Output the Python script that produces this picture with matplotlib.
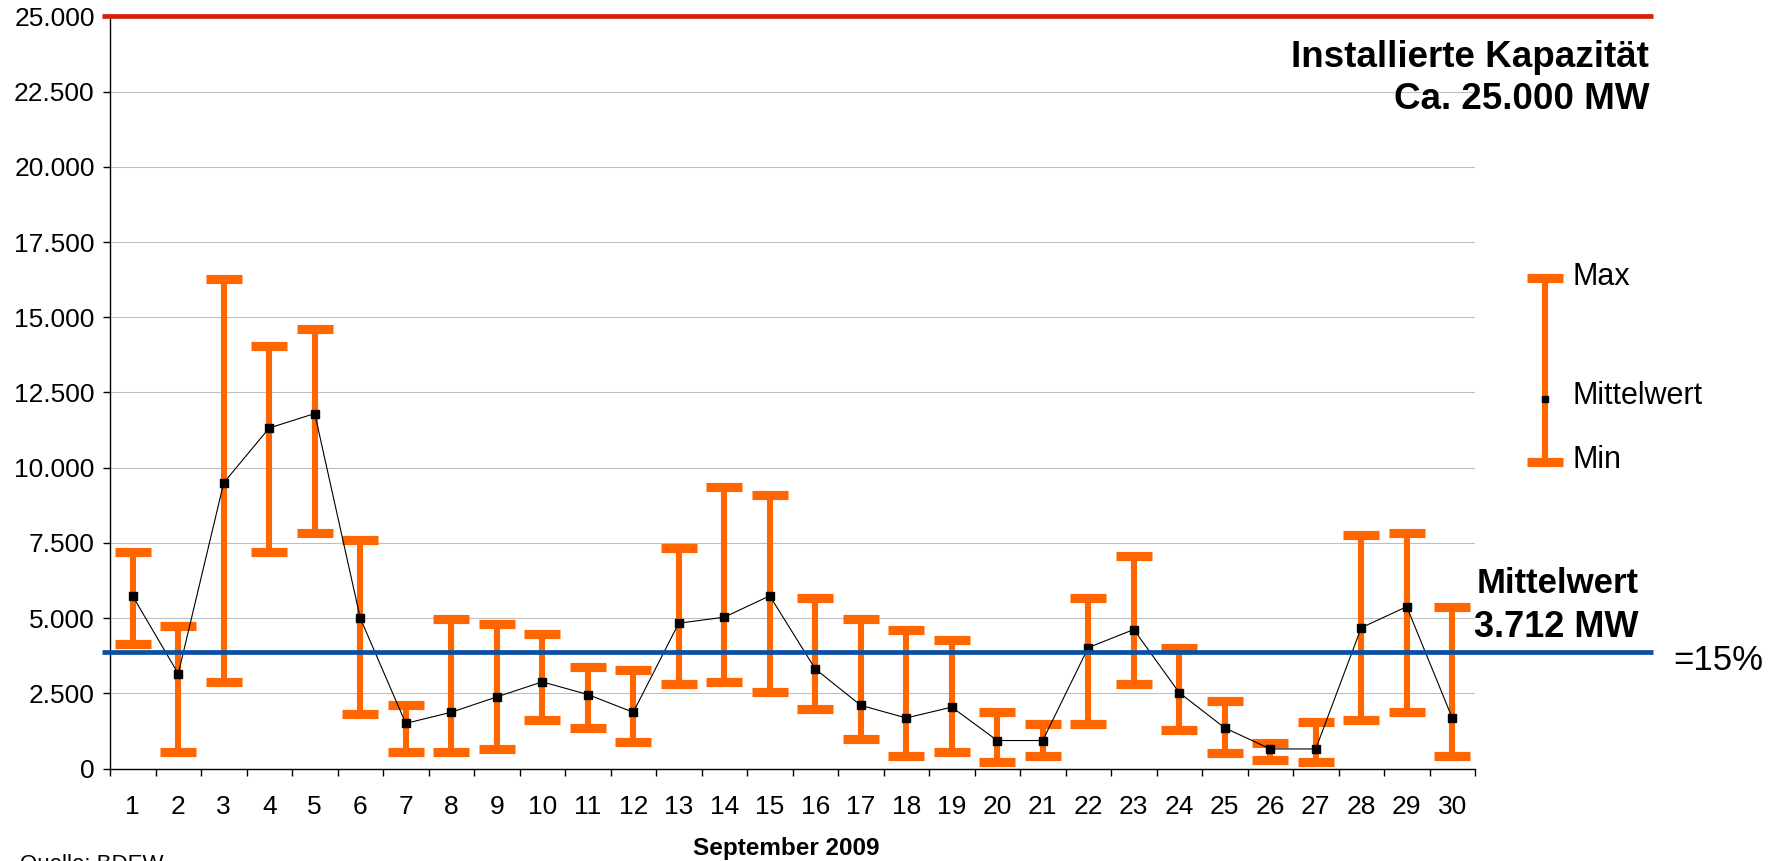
import matplotlib
matplotlib.use("Agg")
import matplotlib.pyplot as plt
import matplotlib.transforms as mtransforms
import numpy as np

plt.rcParams['font.family'] = ['Liberation Sans', 'DejaVu Sans']

# -----------------------------------
# Daten: Windeinspeisung September 2009 (MW)
# -----------------------------------
tage = list(range(1, 31))
maximum = [7200, 4750, 16270, 14050, 14600, 7610, 2100, 4960, 4800, 4470,
           3360, 3290, 7340, 9370, 9080, 5670, 4970, 4620, 4270, 1890,
           1480, 5670, 7070, 4000, 2250, 840, 1550, 7750, 7840, 5380]
mittelwert = [5730, 3150, 9500, 11320, 11800, 5000, 1500, 1870, 2380, 2880,
              2460, 1870, 4830, 5030, 5740, 3310, 2100, 1680, 2040, 930,
              930, 4020, 4620, 2520, 1350, 650, 650, 4680, 5380, 1680]
minimum = [4130, 560, 2880, 7200, 7830, 1820, 560, 560, 640, 1610,
           1340, 880, 2810, 2880, 2530, 1980, 990, 430, 560, 230,
           430, 1480, 2810, 1280, 510, 280, 230, 1610, 1870, 430]

kapazitaet = 25000
mittel_gesamt = 3860  # Lage der blauen Linie (Beschriftung: 3.712 MW)
y_ticks = [0, 2500, 5000, 7500, 10000, 12500, 15000, 17500, 20000, 22500, 25000]
y_labels = ["0", "2.500", "5.000", "7.500", "10.000", "12.500", "15.000",
            "17.500", "20.000", "22.500", "25.000"]

orange = "#FF6600"
rot = "#D7200C"
blau = "#0A50A2"

# -----------------------------------
# Grafik
# -----------------------------------
W, H = 1787, 861
fig = plt.figure(figsize=(W / 100, H / 100), dpi=100)
ax = fig.add_axes([110 / W, 1 - 768.5 / H, 1365 / W, 752 / H])

mw = np.array(mittelwert)
unten = mw - np.array(minimum)
oben = np.array(maximum) - mw

ax.errorbar(tage, mittelwert, yerr=[unten, oben], fmt='none', ecolor=orange,
            elinewidth=4.4, capsize=13.2, capthick=6.6, zorder=3)
ax.plot(tage, mittelwert, color='black', lw=0.8, marker='s', ms=5.5,
        markerfacecolor='black', markeredgecolor='black', zorder=4)

ax.set_xlim(0.5, 30.5)
ax.set_ylim(0, 25000)

# Linien Kapazität und Mittelwert (ragen über die Zeichenfläche hinaus)
trans = mtransforms.blended_transform_factory(ax.transAxes, ax.transData)
ax.plot([-0.006, 1.1304], [kapazitaet, kapazitaet], color=rot, lw=3.4,
        transform=trans, clip_on=False, zorder=5, solid_capstyle='butt')
ax.plot([-0.006, 1.1304], [mittel_gesamt, mittel_gesamt], color=blau, lw=3.4,
        transform=trans, clip_on=False, zorder=5, solid_capstyle='butt')

# Achsen
for s in ['top', 'right']:
    ax.spines[s].set_visible(False)
ax.spines['left'].set_linewidth(1.0)
ax.spines['bottom'].set_linewidth(1.0)

ax.set_yticks(y_ticks)
ax.set_yticklabels(y_labels, fontsize=19)
ax.tick_params(axis='y', length=5, width=1, pad=6)
ax.yaxis.grid(True, color='#BFBFBF', lw=0.8)
ax.set_axisbelow(True)

ax.set_xticks(np.arange(0.5, 31, 1))
ax.set_xticklabels([])
ax.set_xticks(tage, minor=True)
ax.set_xticklabels([str(t) for t in tage], minor=True, fontsize=19)
ax.tick_params(axis='x', which='major', length=5, width=1)
ax.tick_params(axis='x', which='minor', length=0, pad=19)

# Legende (selbst gezeichnet)
lx = 1.0513
ax.plot([lx, lx], [0.4076, 0.6523], color=orange, lw=4.4, transform=ax.transAxes,
        clip_on=False, solid_capstyle='butt')
ax.plot([lx, lx], [0.4076, 0.6523], ls='none', marker='_', ms=26.4, mew=6.6,
        color=orange, transform=ax.transAxes, clip_on=False)
ax.plot([lx], [0.4914], ls='none', marker='s', ms=4, color='black',
        transform=ax.transAxes, clip_on=False)
ax.text(1.0711, 0.6540, "Max", fontsize=22, va='center', transform=ax.transAxes)
ax.text(1.0711, 0.4960, "Mittelwert", fontsize=22, va='center', transform=ax.transAxes)
ax.text(1.0711, 0.4100, "Min", fontsize=22, va='center', transform=ax.transAxes)

# Beschriftungen
fig.text(1649 / W, 1 - 67 / H, "Installierte Kapazität", fontsize=26.5, fontweight='bold',
         ha='right', va='baseline',
         bbox=dict(facecolor='white', edgecolor='none', pad=0))
fig.text(1649 / W, 1 - 109 / H, "Ca. 25.000 MW", fontsize=26.5, fontweight='bold',
         ha='right', va='baseline')
fig.text(1639 / W, 1 - 593 / H, "Mittelwert", fontsize=25, fontweight='bold',
         ha='right', va='baseline')
fig.text(1639 / W, 1 - 637 / H, "3.712 MW", fontsize=26, fontweight='bold',
         ha='right', va='baseline')
fig.text(1673 / W, 1 - 670 / H, "=15%", fontsize=25, ha='left', va='baseline')
fig.text(786 / W, 1 - 849 / H, "September 2009", fontsize=17.5, fontweight='bold',
         ha='center', va='center')
fig.text(20 / W, 1 - 854 / H, "Quelle: BDEW", fontsize=16, ha='left', va='top')

fig.savefig("out.png", dpi=100)
